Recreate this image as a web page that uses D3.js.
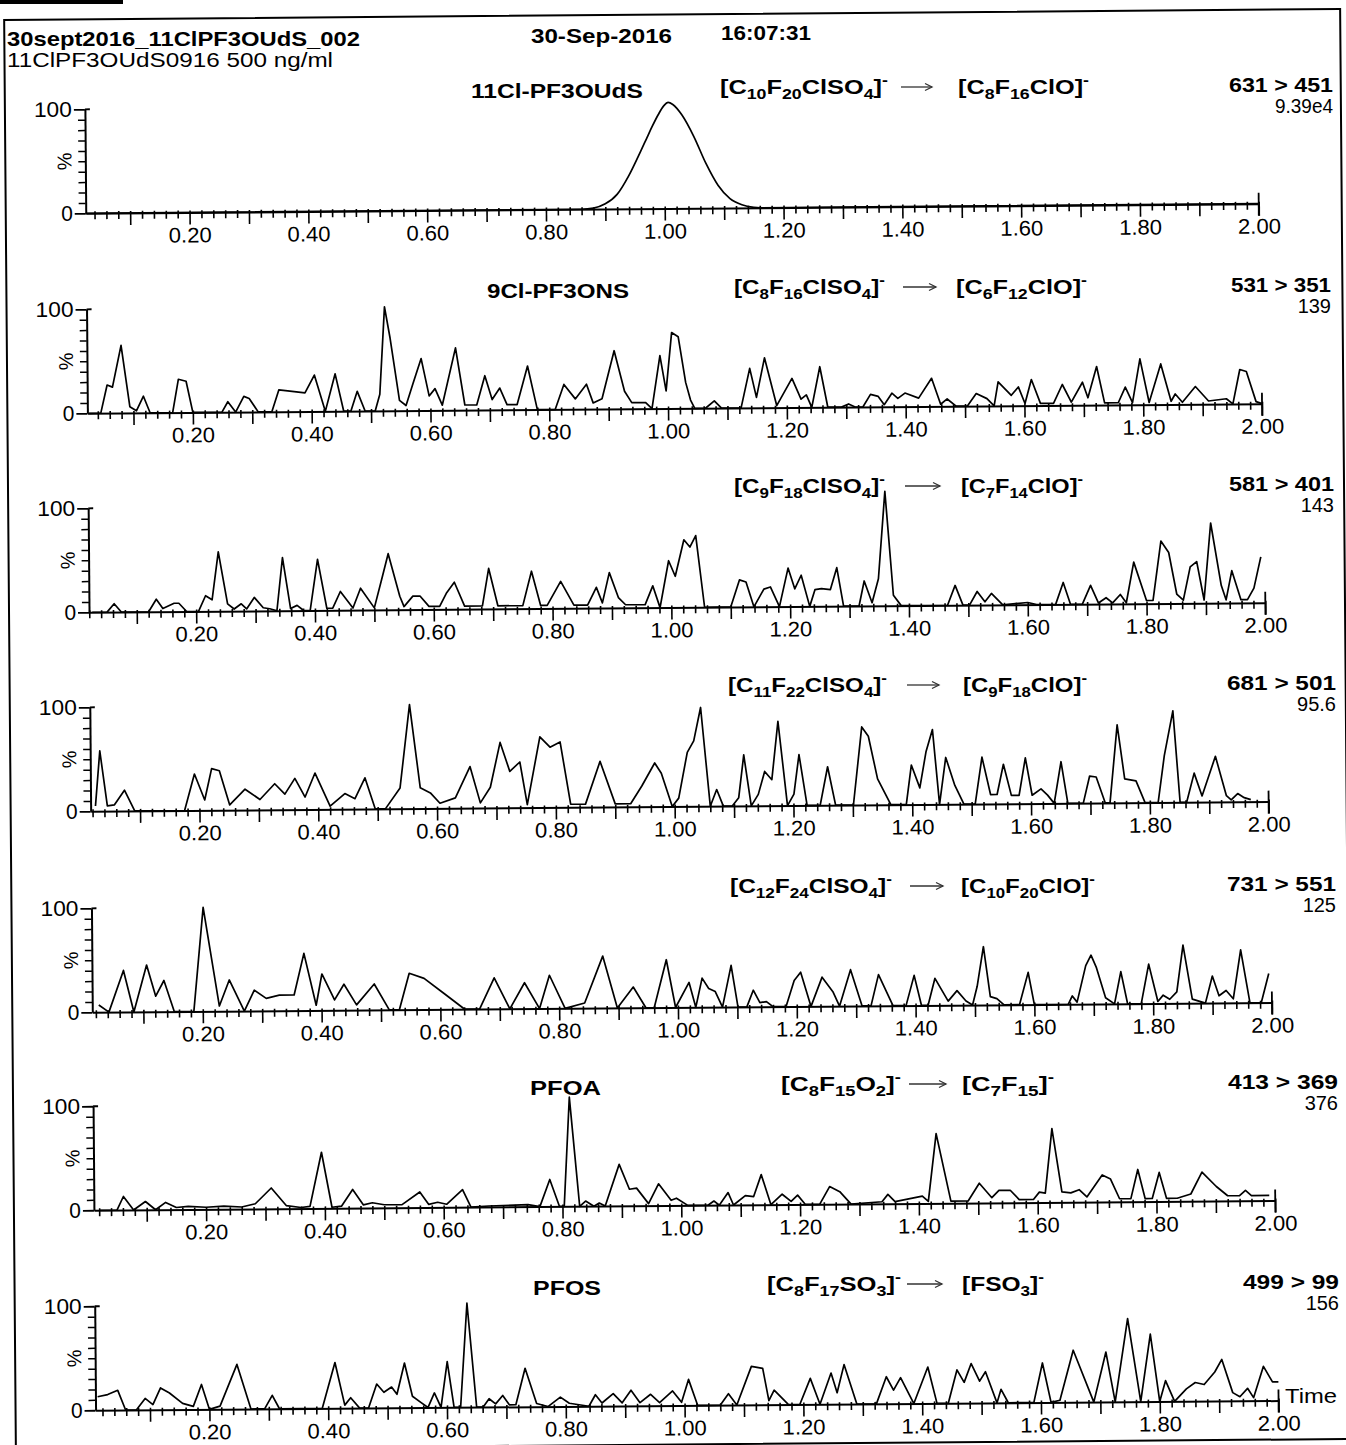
<!DOCTYPE html>
<html><head><meta charset="utf-8">
<script src="https://cdn.jsdelivr.net/npm/d3@7"></script>
<style>
body{margin:0;background:#fff}
svg{display:block}
text{font-family:"Liberation Sans",Arial,Helvetica,sans-serif;fill:#000}
</style></head>
<body><svg id="c" width="1346" height="1445"></svg>
<script>
// ---------------- DATA ----------------
const headerTitle = "30sept2016_11ClPF3OUdS_002";
const headerDate = "30-Sep-2016";
const headerTime = "16:07:31";
const sampleText = "11ClPF3OUdS0916 500 ng/ml";
const compoundNames = ["11Cl-PF3OUdS","9Cl-PF3ONS","","","","PFOA","PFOS"];
const precursorIons = ["[C_{10}F_{20}ClSO_{4}]^{-}","[C_{8}F_{16}ClSO_{4}]^{-}","[C_{9}F_{18}ClSO_{4}]^{-}","[C_{11}F_{22}ClSO_{4}]^{-}","[C_{12}F_{24}ClSO_{4}]^{-}","[C_{8}F_{15}O_{2}]^{-}","[C_{8}F_{17}SO_{3}]^{-}"];
const productIons = ["[C_{8}F_{16}ClO]^{-}","[C_{6}F_{12}ClO]^{-}","[C_{7}F_{14}ClO]^{-}","[C_{9}F_{18}ClO]^{-}","[C_{10}F_{20}ClO]^{-}","[C_{7}F_{15}]^{-}","[FSO_{3}]^{-}"];
const transitions = ["631 > 451","531 > 351","581 > 401","681 > 501","731 > 551","413 > 369","499 > 99"];
const intensities = ["9.39e4","139","143","95.6","125","376","156"];
const timeTicks = [0.2,0.4,0.6,0.8,1.0,1.2,1.4,1.6,1.8,2.0];
const yTicks = [0,100];
const axisTitleX = "Time";
const axisTitleY = "%";

const trace1 = [[0.025,0],[0.86,0],[0.88,1],[0.90,5],[0.92,14],[0.94,32],[0.96,55],[0.97,67],[0.98,79],[0.99,90],[1.0,99],[1.007,102],[1.015,100],[1.03,90],[1.05,69],[1.07,43],[1.09,22],[1.11,9],[1.13,3],[1.15,0.5],[1.16,0],[2.0,0]];

const trace2 = [[0.025,0],[0.045,0],[0.056,27],[0.065,25],[0.080,65],[0.094,6],[0.105,2],[0.117,16],[0.128,0],[0.166,0],[0.176,32],[0.189,30],[0.200,0],[0.249,0],[0.259,10],[0.272,0],[0.286,15],[0.295,13],[0.31,0],[0.333,0],[0.345,21],[0.36,20],[0.389,18],[0.405,35],[0.423,0],[0.44,36],[0.454,0],[0.466,0],[0.477,19],[0.49,0],[0.507,0],[0.515,16],[0.524,100],[0.533,70],[0.548,10],[0.559,5],[0.571,26],[0.585,50],[0.598,14],[0.608,21],[0.62,5],[0.643,60],[0.658,5],[0.678,5],[0.692,33],[0.704,10],[0.717,21],[0.729,5],[0.746,5],[0.764,42],[0.78,0],[0.81,0],[0.825,24],[0.844,10],[0.863,24],[0.874,6],[0.889,10],[0.91,56],[0.927,17],[0.939,6],[0.962,6],[0.973,0],[0.987,51],[0.997,17],[1.007,73],[1.018,69],[1.03,25],[1.038,8],[1.045,0],[1.063,0],[1.078,7],[1.09,0],[1.123,0],[1.138,38],[1.149,10],[1.163,48],[1.183,2],[1.209,28],[1.224,8],[1.233,12],[1.242,0],[1.256,39],[1.269,0],[1.292,0],[1.304,3],[1.315,0],[1.328,0],[1.341,12],[1.354,10],[1.364,2],[1.377,13],[1.387,8],[1.399,13],[1.422,8],[1.444,27],[1.459,2],[1.47,7],[1.485,0],[1.504,0],[1.519,12],[1.537,7],[1.549,0],[1.556,23],[1.578,10],[1.59,18],[1.601,2],[1.612,25],[1.627,2],[1.649,2],[1.664,20],[1.679,3],[1.698,22],[1.707,7],[1.722,37],[1.735,2],[1.758,2],[1.77,17],[1.782,2],[1.795,44],[1.81,2],[1.83,39],[1.847,3],[1.854,10],[1.866,2],[1.888,17],[1.91,3],[1.94,5],[1.951,0],[1.963,33],[1.974,31],[1.99,2],[2.0,0]];

const trace3 = [[0.025,0],[0.05,0],[0.062,8],[0.074,0],[0.12,0],[0.133,12],[0.144,3],[0.163,8],[0.171,8],[0.184,0],[0.204,0],[0.216,15],[0.227,11],[0.238,57],[0.253,7],[0.264,2],[0.276,7],[0.285,2],[0.298,13],[0.313,3],[0.324,2],[0.336,0],[0.346,51],[0.359,2],[0.37,5],[0.381,0],[0.392,0],[0.405,49],[0.42,2],[0.43,2],[0.443,18],[0.464,2],[0.477,21],[0.5,2],[0.513,30],[0.524,54],[0.543,13],[0.55,3],[0.565,13],[0.577,13],[0.592,3],[0.61,3],[0.622,16],[0.635,26],[0.652,3],[0.682,3],[0.693,39],[0.708,3],[0.75,3],[0.765,36],[0.78,3],[0.791,3],[0.814,26],[0.836,3],[0.859,3],[0.874,20],[0.884,5],[0.896,34],[0.911,10],[0.923,3],[0.956,3],[0.969,21],[0.981,0],[0.996,45],[1.007,30],[1.022,65],[1.032,58],[1.042,69],[1.056,0],[1.078,0],[1.1,0],[1.115,26],[1.126,24],[1.139,0],[1.156,17],[1.167,19],[1.182,0],[1.197,37],[1.208,17],[1.219,30],[1.233,0],[1.242,16],[1.253,17],[1.268,16],[1.279,37],[1.29,0],[1.316,0],[1.325,24],[1.338,3],[1.349,26],[1.361,110],[1.374,10],[1.387,0],[1.465,0],[1.478,19],[1.491,0],[1.502,0],[1.515,13],[1.528,3],[1.539,11],[1.558,0],[1.6,2],[1.615,0],[1.647,0],[1.66,21],[1.672,0],[1.692,0],[1.706,18],[1.719,1],[1.732,6],[1.743,1],[1.756,9],[1.766,1],[1.779,40],[1.8,3],[1.811,3],[1.825,60],[1.838,49],[1.851,9],[1.862,3],[1.874,35],[1.885,40],[1.897,3],[1.909,77],[1.926,17],[1.934,3],[1.944,31],[1.959,3],[1.97,3],[1.981,14],[1.993,44]];

const trace4 = [[0.025,5],[0.033,58],[0.045,5],[0.057,6],[0.074,20],[0.091,0],[0.175,0],[0.192,35],[0.209,10],[0.221,40],[0.234,38],[0.251,5],[0.277,20],[0.302,10],[0.327,25],[0.344,15],[0.361,30],[0.378,12],[0.395,35],[0.42,3],[0.445,15],[0.462,10],[0.479,30],[0.496,0],[0.513,0],[0.538,20],[0.555,100],[0.572,20],[0.589,15],[0.605,5],[0.631,10],[0.656,40],[0.673,5],[0.69,20],[0.707,63],[0.723,35],[0.74,44],[0.752,3],[0.774,68],[0.791,58],[0.808,63],[0.825,3],[0.85,3],[0.875,44],[0.9,3],[0.926,3],[0.945,20],[0.967,42],[0.978,32],[0.996,0],[1.007,8],[1.022,52],[1.033,63],[1.045,95],[1.06,0],[1.071,16],[1.082,0],[1.097,0],[1.108,8],[1.117,49],[1.129,0],[1.141,11],[1.152,33],[1.164,25],[1.175,81],[1.19,0],[1.201,11],[1.21,49],[1.223,0],[1.245,0],[1.258,37],[1.271,0],[1.301,0],[1.316,75],[1.327,66],[1.342,25],[1.364,0],[1.39,0],[1.399,38],[1.413,16],[1.424,51],[1.435,72],[1.446,0],[1.457,45],[1.472,18],[1.487,0],[1.506,0],[1.518,45],[1.532,9],[1.543,9],[1.554,38],[1.567,8],[1.58,8],[1.591,44],[1.602,8],[1.617,14],[1.628,8],[1.639,0],[1.651,40],[1.662,0],[1.688,0],[1.699,26],[1.71,25],[1.725,0],[1.733,0],[1.746,75],[1.758,23],[1.777,21],[1.792,0],[1.814,0],[1.825,45],[1.84,88],[1.851,0],[1.862,0],[1.875,28],[1.888,6],[1.911,44],[1.929,6],[1.937,2],[1.948,8],[1.959,4],[1.97,2]];

const trace5 = [[0.025,7],[0.042,0],[0.067,40],[0.084,0],[0.106,45],[0.121,15],[0.135,30],[0.152,0],[0.185,0],[0.202,100],[0.228,5],[0.245,30],[0.27,0],[0.287,20],[0.307,12],[0.329,15],[0.354,15],[0.371,55],[0.391,5],[0.401,35],[0.422,10],[0.438,25],[0.459,5],[0.489,25],[0.514,0],[0.531,0],[0.548,35],[0.573,30],[0.607,15],[0.641,0],[0.666,0],[0.691,30],[0.717,0],[0.742,25],[0.767,0],[0.784,32],[0.81,0],[0.843,5],[0.874,50],[0.898,0],[0.925,20],[0.946,0],[0.96,0],[0.981,46],[0.996,0],[1.019,24],[1.03,0],[1.041,28],[1.052,18],[1.063,15],[1.075,0],[1.09,40],[1.101,0],[1.116,0],[1.127,16],[1.138,4],[1.149,5],[1.16,0],[1.182,0],[1.196,25],[1.207,33],[1.224,0],[1.243,28],[1.261,14],[1.272,0],[1.291,35],[1.31,0],[1.325,0],[1.338,30],[1.362,0],[1.384,0],[1.398,29],[1.41,0],[1.421,0],[1.433,26],[1.455,4],[1.47,14],[1.485,4],[1.496,0],[1.504,18],[1.515,56],[1.526,8],[1.537,6],[1.549,0],[1.575,0],[1.59,31],[1.6,0],[1.657,0],[1.664,8],[1.672,2],[1.687,37],[1.696,47],[1.705,35],[1.72,6],[1.735,0],[1.746,31],[1.757,0],[1.78,0],[1.793,38],[1.808,2],[1.817,8],[1.828,4],[1.84,11],[1.851,56],[1.866,4],[1.888,0],[1.9,26],[1.911,7],[1.923,12],[1.935,4],[1.948,51],[1.963,0],[1.982,0],[1.995,28]];

const trace6 = [[0.02,0],[0.05,0],[0.061,13],[0.078,0],[0.098,8],[0.115,0],[0.132,7],[0.15,2],[0.17,3],[0.2,2],[0.23,3],[0.26,2],[0.283,5],[0.31,20],[0.335,3],[0.36,1],[0.375,2],[0.395,54],[0.412,1],[0.428,2],[0.447,18],[0.465,3],[0.48,5],[0.5,3],[0.53,3],[0.56,15],[0.575,3],[0.59,5],[0.605,3],[0.632,17],[0.646,0],[0.676,1],[0.742,2],[0.762,0],[0.779,26],[0.795,0],[0.803,0],[0.813,105],[0.829,0],[0.839,5],[0.853,0],[0.862,3],[0.872,0],[0.896,40],[0.913,16],[0.925,17],[0.945,2],[0.962,21],[0.983,5],[0.992,7],[1.011,0],[1.045,0],[1.055,4],[1.064,0],[1.079,12],[1.088,0],[1.108,9],[1.122,8],[1.135,29],[1.151,0],[1.17,10],[1.185,3],[1.196,9],[1.209,0],[1.233,0],[1.25,17],[1.267,12],[1.286,0],[1.338,2],[1.348,9],[1.36,2],[1.406,7],[1.416,2],[1.43,67],[1.454,2],[1.483,2],[1.502,19],[1.523,5],[1.535,12],[1.554,12],[1.569,3],[1.593,3],[1.603,10],[1.613,9],[1.625,71],[1.641,10],[1.656,9],[1.67,12],[1.683,5],[1.709,26],[1.723,22],[1.738,3],[1.757,3],[1.769,31],[1.781,3],[1.793,3],[1.805,28],[1.817,3],[1.835,3],[1.858,7],[1.877,28],[1.901,14],[1.92,5],[1.94,5],[1.95,10],[1.96,5],[1.99,5]];

const trace7 = [[0.012,13],[0.029,15],[0.046,19],[0.059,0],[0.077,0],[0.092,11],[0.105,5],[0.118,21],[0.133,16],[0.155,6],[0.173,3],[0.187,24],[0.2,0],[0.218,3],[0.247,43],[0.27,0],[0.293,0],[0.306,13],[0.318,0],[0.39,0],[0.412,44],[0.428,3],[0.438,10],[0.453,0],[0.468,0],[0.482,23],[0.494,15],[0.507,20],[0.516,13],[0.529,43],[0.542,11],[0.556,5],[0.568,0],[0.579,14],[0.59,0],[0.601,44],[0.612,0],[0.623,0],[0.635,100],[0.65,0],[0.661,0],[0.671,8],[0.682,3],[0.694,11],[0.705,2],[0.716,2],[0.732,37],[0.751,3],[0.77,0],[0.791,9],[0.806,3],[0.839,0],[0.85,11],[0.861,3],[0.88,12],[0.895,3],[0.91,15],[0.925,3],[0.943,11],[0.958,3],[0.98,14],[0.995,3],[1.007,25],[1.022,0],[1.06,0],[1.074,11],[1.088,0],[1.113,37],[1.132,35],[1.142,4],[1.151,14],[1.175,0],[1.194,0],[1.212,25],[1.228,0],[1.247,30],[1.257,11],[1.269,38],[1.29,0],[1.323,0],[1.34,26],[1.352,13],[1.364,25],[1.386,0],[1.41,35],[1.425,0],[1.444,0],[1.459,32],[1.471,20],[1.483,38],[1.497,21],[1.507,30],[1.526,0],[1.533,13],[1.545,0],[1.588,0],[1.603,38],[1.617,0],[1.632,2],[1.655,50],[1.689,0],[1.71,48],[1.725,0],[1.747,80],[1.768,0],[1.785,65],[1.8,0],[1.81,20],[1.825,0],[1.845,12],[1.86,18],[1.875,16],[1.893,28],[1.905,40],[1.923,8],[1.935,4],[1.948,12],[1.958,3],[1.975,33],[1.99,18],[2.0,18]];

const traces = [trace1,trace2,trace3,trace4,trace5,trace6,trace7];

// ---------------- LAYOUT ----------------
const W = 1346, Hgt = 1445;
const ROT = -0.47;                 // scan is slightly rotated
const bases = [214,414,613,812,1013,1211,1411];   // unrotated y of 0 %
const PH = 104;                    // height of 0..100 %
const AX = 84;                     // unrotated x of y-axis
const SLOPE = 594;                 // px per minute
const screenBase = [213,413,612,811,1012,1210,1410];
const nameBox = [[471,172],[487,142],null,null,null,[530,71],[533,68]];
const preBox = [[720,168],[734,151],[734,151],[728,159],[730,162],[781,120],[767,134]];
const proBox = [[958,131],[956,131],[961,122],[963,124],[961,134],[962,92],[962,82]];
const arrowBox = [[901,932],[903,936],[905,940],[907,939],[910,943],[909,946],[907,942]];
const rightEdge = [1333,1331,1334,1336,1336,1338,1339];
const mzW = [104,100,105,109,109,110,96];

const svg = d3.select("#c");
svg.append("rect").attr("width",W).attr("height",Hgt).attr("fill","#fff");
const g = svg.append("g").attr("transform",`rotate(${ROT})`);

// frame
g.append("rect").attr("x",4).attr("y",20).attr("width",1336).attr("height",1430)
  .attr("fill","none").attr("stroke","#000").attr("stroke-width",2);

const fmt2 = d3.format(".2f");

traces.forEach((data,i)=>{
  const base = bases[i];
  const xOff = 69 + i*1.67;
  const t0 = (AX - xOff)/SLOPE;
  const x = d3.scaleLinear().domain([t0,2]).range([AX, xOff + 2*SLOPE]);
  const y = d3.scaleLinear().domain([0,100]).range([base, base-PH]);
  const p = g.append("g");

  const ks = d3.range(1,101);
  const minor = ks.filter(k=>k%5!==0).map(k=>k/50).filter(t=>t>=t0);
  const mid = ks.filter(k=>k%10===5).map(k=>k/50);

  const styleAxis = sel => {
    sel.selectAll("line").attr("stroke","#000").attr("stroke-width",1.6).attr("y1",-2);
    sel.selectAll("path.domain").attr("stroke","#000").attr("stroke-width",2);
  };
  p.append("g").attr("transform",`translate(0,${base})`)
    .call(d3.axisBottom(x).tickValues(minor).tickSize(6).tickSizeOuter(0).tickFormat(()=>""))
    .call(s=>s.select(".domain").remove()).call(styleAxis);
  p.append("g").attr("transform",`translate(0,${base})`)
    .call(d3.axisBottom(x).tickValues(mid).tickSize(12).tickSizeOuter(0).tickFormat(()=>""))
    .call(s=>s.select(".domain").remove()).call(styleAxis);
  const xa = p.append("g").attr("transform",`translate(0,${base})`)
    .call(d3.axisBottom(x).tickValues(timeTicks).tickSize(12).tickSizeOuter(0).tickPadding(3).tickFormat(fmt2))
    .call(styleAxis);
  xa.selectAll("text").attr("font-size",21).attr("fill","#000")
    .attr("font-family",'"Liberation Sans",Arial,sans-serif')
    .attr("textLength",43).attr("lengthAdjust","spacingAndGlyphs");
  // end tick at 2.00
  p.append("line").attr("x1",x(2)).attr("x2",x(2)).attr("y1",base-11).attr("y2",base+12)
    .attr("stroke","#000").attr("stroke-width",1.8);

  // y axis
  p.append("g").attr("transform",`translate(${AX},0)`)
    .call(d3.axisLeft(y).tickValues(d3.range(10,100,10)).tickSize(7).tickFormat(()=>""))
    .call(s=>s.select(".domain").remove())
    .call(s=>s.selectAll("line").attr("stroke","#000").attr("stroke-width",1.5));
  const ya = p.append("g").attr("transform",`translate(${AX},0)`)
    .call(d3.axisLeft(y).tickValues(yTicks).tickSize(11).tickSizeOuter(0).tickPadding(2).tickFormat(d=>String(d)))
    .call(s=>s.selectAll("line").attr("stroke","#000").attr("stroke-width",1.8))
    .call(s=>s.select(".domain").attr("stroke","#000").attr("stroke-width",2));
  ya.selectAll("text").attr("font-size",21).attr("fill","#000")
    .attr("font-family",'"Liberation Sans",Arial,sans-serif')
    .each(function(d){ if(d===100) d3.select(this).attr("textLength",38).attr("lengthAdjust","spacingAndGlyphs"); });
  p.append("line").attr("x1",AX).attr("x2",AX+5).attr("y1",y(100)).attr("y2",y(100))
    .attr("stroke","#000").attr("stroke-width",1.8);
  p.append("text").attr("transform",`translate(${AX-21},${y(50)}) rotate(-90)`)
    .attr("text-anchor","middle").attr("dy","0.35em").attr("font-size",20).text(axisTitleY);

  // trace
  const line = d3.line().x(d=>x(d[0])).y(d=>y(d[1]))
    .curve(i===0 ? d3.curveMonotoneX : d3.curveLinear);
  p.append("path").datum(data).attr("d",line).attr("fill","none")
    .attr("stroke","#000").attr("stroke-width",1.7).attr("stroke-linejoin","round");
});

// ---------------- TEXT (screen coords) ----------------
function txt(s, x, y, size, weight, width, anchor){
  const t = svg.append("text").attr("x",x).attr("y",y).attr("font-size",size)
    .attr("font-weight",weight||"normal").attr("text-anchor",anchor||"start").text(s);
  if(width) t.attr("textLength",width).attr("lengthAdjust","spacingAndGlyphs");
  return t;
}
function rich(str, x, y, size, width){
  const t = svg.append("text").attr("x",x).attr("y",y).attr("font-size",size).attr("font-weight","bold");
  const parts = str.match(/_\{[^}]*\}|\^\{[^}]*\}|[^_^]+/g);
  let shift = 0;
  parts.forEach(pt=>{
    let dy = 0, fs = size, s = pt;
    if(pt[0]==="_"){ s = pt.slice(2,-1); dy = 5; fs = Math.round(size*0.7); }
    else if(pt[0]==="^"){ s = pt.slice(2,-1); dy = -9; fs = Math.round(size*0.7); }
    t.append("tspan").attr("dy",dy-shift).attr("font-size",fs).text(s);
    shift = dy;
  });
  if(width) t.attr("textLength",width).attr("lengthAdjust","spacingAndGlyphs");
}

svg.append("rect").attr("x",0).attr("y",0).attr("width",123).attr("height",4).attr("fill","#000");
txt(headerTitle,7,46,21,"bold",353);
txt(headerDate,531,43,21,"bold",141);
txt(headerTime,721,40,21,"bold",90);
txt(sampleText,7,67,20,"normal",326);

screenBase.forEach((b,i)=>{
  if(compoundNames[i]) txt(compoundNames[i], nameBox[i][0], b-115, 20, "bold", nameBox[i][1]);
  rich(precursorIons[i], preBox[i][0], b-119, 20, preBox[i][1]);
  rich(productIons[i], proBox[i][0], b-119, 20, proBox[i][1]);
  const ay = b-126, a = arrowBox[i];
  svg.append("line").attr("x1",a[0]).attr("x2",a[1]).attr("y1",ay).attr("y2",ay)
    .attr("stroke","#333").attr("stroke-width",1.3);
  svg.append("path").attr("d",`M${a[1]-7},${ay-3.5}L${a[1]},${ay}L${a[1]-7},${ay+3.5}`)
    .attr("fill","none").attr("stroke","#333").attr("stroke-width",1.3);
  txt(transitions[i], rightEdge[i], b-121, 20, "bold", mzW[i], "end");
  txt(intensities[i], rightEdge[i], b-100, 20, "normal", i===0 ? 58 : null, "end");
});
txt(axisTitleX, 1285, 1403, 21, "normal", 52);
</script></body></html>
